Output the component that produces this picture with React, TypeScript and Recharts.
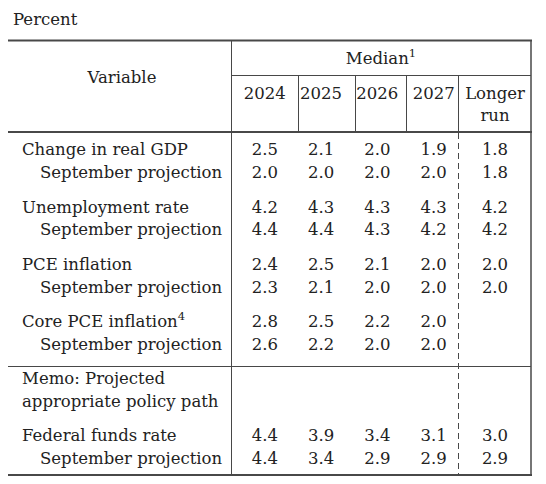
import React from 'react';
import { ScatterChart, Scatter, XAxis, YAxis } from 'recharts';

// column headers
const years = ['2024', '2025', '2026', '2027'];
const longerRunHeader = ['Longer', 'run'];

// row labels
const variables = ['Change in real GDP', 'Unemployment rate', 'PCE inflation', 'Core PCE inflation', 'Federal funds rate'];
const variableNotes = ['', '', '', '4', ''];
const septLabel = 'September projection';
const memoLines = ['Memo: Projected', 'appropriate policy path'];

// medians, 2024-2027
const gdpMedian = [2.5, 2.1, 2.0, 1.9];
const gdpSept = [2.0, 2.0, 2.0, 2.0];
const unempMedian = [4.2, 4.3, 4.3, 4.3];
const unempSept = [4.4, 4.4, 4.3, 4.2];
const pceMedian = [2.4, 2.5, 2.1, 2.0];
const pceSept = [2.3, 2.1, 2.0, 2.0];
const corePceMedian = [2.8, 2.5, 2.2, 2.0];
const corePceSept = [2.6, 2.2, 2.0, 2.0];
const fedFundsMedian = [4.4, 3.9, 3.4, 3.1];
const fedFundsSept = [4.4, 3.4, 2.9, 2.9];

// longer run, same order as variables
const longerRunMedian = [1.8, 4.2, 2.0, null, 3.0];
const longerRunSept = [1.8, 4.2, 2.0, null, 2.9];

const medianRows = [gdpMedian, unempMedian, pceMedian, corePceMedian, fedFundsMedian];
const septRows = [gdpSept, unempSept, pceSept, corePceSept, fedFundsSept];

// block slot of each variable (slot 4 is the memo)
const slots = [0, 1, 2, 3, 5];
const MEMO_SLOT = 4;

const FONT = '"DejaVu Serif", serif';
const FS = 16.5;
const BASE = 6.2; // centre -> baseline
const INK = '#222';
const RULE = '#484848';

type Cell = { col: number; u: number; v: number };

const yearCells: Cell[] = variables.flatMap((_, vi) => {
  const u = slots[vi] * 5;
  return [
    ...medianRows[vi].map((v, col) => ({ col, u, v })),
    ...septRows[vi].map((v, col) => ({ col, u: u + 2, v })),
  ];
});

const lrCells: Cell[] = variables.flatMap((_, vi) => {
  const u = slots[vi] * 5;
  const out: Cell[] = [];
  if (longerRunMedian[vi] != null) out.push({ col: 0, u, v: longerRunMedian[vi] as number });
  if (longerRunSept[vi] != null) out.push({ col: 0, u: u + 2, v: longerRunSept[vi] as number });
  return out;
});

type RowLabel = { text: string; indent: boolean; note: string };
const rowLabels: Record<number, RowLabel> = {};
variables.forEach((name, vi) => {
  rowLabels[slots[vi] * 5] = { text: name, indent: false, note: variableNotes[vi] };
  rowLabels[slots[vi] * 5 + 2] = { text: septLabel, indent: true, note: '' };
});
rowLabels[MEMO_SLOT * 5] = { text: memoLines[0], indent: false, note: '' };
rowLabels[MEMO_SLOT * 5 + 2] = { text: memoLines[1], indent: false, note: '' };
const rowTicks = Object.keys(rowLabels).map(Number).sort((a, b) => a - b);

const textStyle = { fontFamily: FONT, fontSize: FS, fill: INK };

const ValueCell = (props: any) => {
  const { cx, cy, payload } = props;
  if (cx == null || cy == null) return null;
  return (
    <text x={cx} y={cy + BASE} textAnchor="middle" style={textStyle}>
      {payload.v.toFixed(1)}
    </text>
  );
};

const RowTick = (props: any) => {
  const { y, payload } = props;
  const row = rowLabels[payload.value];
  if (!row) return null;
  return (
    <text x={row.indent ? 40 : 22} y={y + BASE} textAnchor="start" style={textStyle}>
      {row.text}
      {row.note && (
        <tspan dy={-7} fontSize={11.5}>
          {row.note}
        </tspan>
      )}
    </text>
  );
};

const YearTick = (props: any) => {
  const { x, payload } = props;
  return (
    <text x={x} y={98.5} textAnchor="middle" style={textStyle}>
      {years[payload.value]}
    </text>
  );
};

const LongerRunTick = (props: any) => {
  const { x } = props;
  return (
    <g>
      <text x={x} y={98.5} textAnchor="middle" style={textStyle}>{longerRunHeader[0]}</text>
      <text x={x} y={120.5} textAnchor="middle" style={textStyle}>{longerRunHeader[1]}</text>
    </g>
  );
};

const Frame = () => (
  <svg width={546} height={484} style={{ position: 'absolute', left: 0, top: 0, pointerEvents: 'none' }}>
    <text x={13} y={25} style={textStyle}>Percent</text>
    <text x={122} y={83} textAnchor="middle" style={textStyle}>Variable</text>
    <text x={381} y={63.5} textAnchor="middle" style={textStyle}>
      Median<tspan dy={-7} fontSize={11.5}>1</tspan>
    </text>
    <g stroke={RULE} fill="none">
      <line x1={8} x2={532} y1={40.5} y2={40.5} strokeWidth={2} />
      <line x1={231} x2={531} y1={75.5} y2={75.5} strokeWidth={1} />
      <line x1={8} x2={532} y1={132} y2={132} strokeWidth={2} />
      <line x1={8} x2={531} y1={366.5} y2={366.5} strokeWidth={1} />
      <line x1={8} x2={532} y1={475} y2={475} strokeWidth={2} />
      <line x1={231.5} x2={231.5} y1={40} y2={475} strokeWidth={1} />
      <line x1={531} x2={531} y1={40} y2={475} strokeWidth={1.5} />
      <line x1={298.5} x2={298.5} y1={75} y2={132} strokeWidth={1} />
      <line x1={355.5} x2={355.5} y1={75} y2={132} strokeWidth={1} />
      <line x1={406.5} x2={406.5} y1={75} y2={132} strokeWidth={1} />
      <line x1={458.5} x2={458.5} y1={75} y2={132} strokeWidth={1} />
      <line x1={458.5} x2={458.5} y1={133} y2={475} strokeWidth={1} strokeDasharray="6 4" />
    </g>
  </svg>
);

export default function App() {
  return (
    <div style={{ position: 'absolute', left: 0, top: 0, width: 546, height: 484, background: '#fff' }}>
      <ScatterChart width={546} height={484} margin={{ top: 102, right: 15, bottom: 9, left: 0 }}>
        <XAxis
          xAxisId="yr"
          type="number"
          dataKey="col"
          orientation="top"
          height={15}
          domain={[-0.6, 3.45]}
          padding={{ left: 0, right: 72 }}
          ticks={[0, 1, 2, 3]}
          interval={0}
          axisLine={false}
          tickLine={false}
          tick={YearTick}
          allowDataOverflow
        />
        <XAxis
          xAxisId="lr"
          type="number"
          dataKey="col"
          orientation="top"
          height={15}
          domain={[-0.5, 0.5]}
          padding={{ left: 228, right: 0 }}
          ticks={[0]}
          interval={0}
          axisLine={false}
          tickLine={false}
          tick={LongerRunTick}
          allowDataOverflow
        />
        <YAxis
          type="number"
          dataKey="u"
          width={231}
          reversed
          domain={[-1.5, 28.5]}
          ticks={rowTicks}
          interval={0}
          axisLine={false}
          tickLine={false}
          tick={RowTick}
          allowDataOverflow
        />
        <Scatter xAxisId="yr" data={yearCells} shape={ValueCell} isAnimationActive={false} />
        <Scatter xAxisId="lr" data={lrCells} shape={ValueCell} isAnimationActive={false} />
      </ScatterChart>
      <Frame />
    </div>
  );
}
